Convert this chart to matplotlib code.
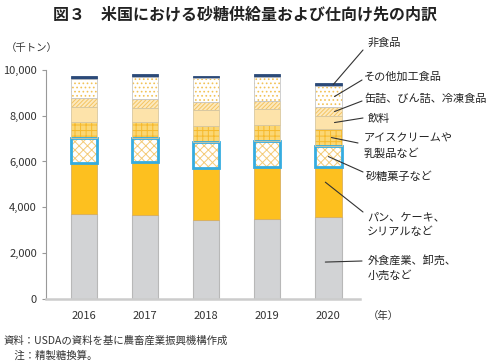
import numpy as np
import matplotlib
matplotlib.use('Agg')
import matplotlib.pyplot as plt
from matplotlib.ticker import FuncFormatter

plt.rcParams['font.family'] = ['Noto Sans CJK JP', 'DejaVu Sans']
plt.rcParams['hatch.linewidth'] = 0.7

years = ['2016', '2017', '2018', '2019', '2020']

# thousand tonnes, bottom to top
restaurant = [3710, 3670, 3450, 3480, 3570]      # 外食産業、卸売、小売など
bakery = [2230, 2300, 2260, 2300, 2180]          # パン、ケーキ、シリアルなど
confection = [1100, 1060, 1120, 1130, 930]       # 砂糖菓子など
icecream = [700, 690, 740, 690, 730]             # アイスクリームや乳製品など
beverage = [630, 630, 680, 680, 580]             # 飲料
canned = [390, 370, 340, 380, 380]               # 缶詰、びん詰、冷凍食品
other = [830, 960, 1050, 1020, 930]              # その他加工食品
nonfood = [160, 130, 110, 130, 120]              # 非食品

series = [restaurant, bakery, confection, icecream, beverage, canned, other, nonfood]
labels = ['外食産業、卸売、\n小売など', 'パン、ケーキ、\nシリアルなど', '砂糖菓子など',
          'アイスクリームや\n乳製品など', '飲料', '缶詰、びん詰、冷凍食品',
          'その他加工食品', '非食品']

# face, hatch, hatch colour, border, border width
styles = [
    ('#d2d3d5', None, None, '#b8b8b8', 0.8),
    ('#fdc01f', None, None, '#d9b060', 0.6),
    ('white', 'xxxx', '#f4cb78', '#36ace0', 2.0),
    ('#fbd774', '+++', '#f6b92c', '#d8c8a0', 0.6),
    ('#fde3aa', None, None, '#d8c8a0', 0.6),
    ('#fde9bd', '////////', '#f4c461', '#d8c8a0', 0.6),
    ('white', '....', '#f2c257', '#c8c8c8', 0.6),
    ('#2b4a79', None, None, '#2b4a79', 0.6),
]

fig = plt.figure(figsize=(4.9, 3.64), dpi=100)
ax = fig.add_axes([0.094, 0.179, 0.641, 0.629])

x = np.arange(len(years))
w = 0.43
bottom = np.zeros(len(years))
for vals, (fc, hatch, hc, ec, lw) in zip(series, styles):
    vals = np.array(vals, dtype=float)
    if hatch:
        ax.bar(x, vals, w, bottom=bottom, color=fc, hatch=hatch, edgecolor=hc, linewidth=0, zorder=2)
        ax.bar(x, vals, w, bottom=bottom, fill=False, edgecolor=ec, linewidth=lw, zorder=3)
    else:
        ax.bar(x, vals, w, bottom=bottom, color=fc, edgecolor=ec, linewidth=lw, zorder=2)
    bottom += vals

ax.set_xlim(-0.62, 4.52)
ax.set_ylim(0, 10000)
ax.set_xticks(x)
ax.set_xticklabels(years, fontsize=8, color='#333333')
ax.set_yticks(np.arange(0, 10001, 2000))
ax.yaxis.set_major_formatter(FuncFormatter(lambda v, p: f'{int(v):,}'))
ax.tick_params(axis='y', labelsize=8, colors='#333333', length=3, color='#999999', width=0.8)
ax.tick_params(axis='x', length=0, pad=9)
for s in ['top', 'right']:
    ax.spines[s].set_visible(False)
ax.spines['left'].set_color('#999999')
ax.spines['left'].set_linewidth(0.8)
ax.spines['bottom'].set_color('#cccccc')
ax.spines['bottom'].set_linewidth(1.8)

# leader lines from the 2020 bar to the labels
W, H = 490, 364
text_pos = [(368, 268), (367, 225), (366, 177), (364, 146), (368, 119),
            (364, 99), (364, 77), (368, 43)]
line_end = [(362, 261), (363, 212), (363, 172), (358, 143), (363, 118),
            (362, 101), (362, 80), (363, 50)]
offsets = [-0.05, -0.05, 0.0, 0.05, 0.1, 0.1, 0.1, 0.08]
cum = np.zeros(len(years))
for i, vals in enumerate(series):
    mid = cum[-1] + vals[-1] / 2
    cum += np.array(vals)
    if i == 1:
        mid = cum[-1] - vals[-1] * 0.3
    if i == 0:
        mid = vals[-1] * 0.45
    ex, ey = line_end[i]
    ax.annotate('', xy=(4 + offsets[i], mid), xycoords='data',
                xytext=(ex / W, 1 - ey / H), textcoords='figure fraction',
                arrowprops=dict(arrowstyle='-', color='#333333', lw=0.8,
                                shrinkA=0, shrinkB=0), zorder=5, annotation_clip=False)
    tx, ty = text_pos[i]
    fig.text(tx / W, 1 - ty / H, labels[i], fontsize=8, color='#222222',
             va='center', ha='left', linespacing=1.5)

fig.text(245 / W, 1 - 14 / H, '図３　米国における砂糖供給量および仕向け先の内訳',
         fontsize=11.5, ha='center', va='center', color='#222222', fontweight='bold')
fig.text(6 / W, 1 - 48 / H, '（千トン）', fontsize=7.5, ha='left', va='center', color='#333333')
fig.text(368 / W, 1 - 316 / H, '（年）', fontsize=7.5, ha='left', va='center', color='#333333')
fig.text(4 / W, 1 - 341 / H, '資料：USDAの資料を基に農畜産業振興機構作成', fontsize=7.5,
         ha='left', va='center', color='#333333')
fig.text(4 / W, 1 - 356 / H, '　注：精製糖換算。', fontsize=7.5,
         ha='left', va='center', color='#333333')

fig.savefig('out.png', dpi=100)
